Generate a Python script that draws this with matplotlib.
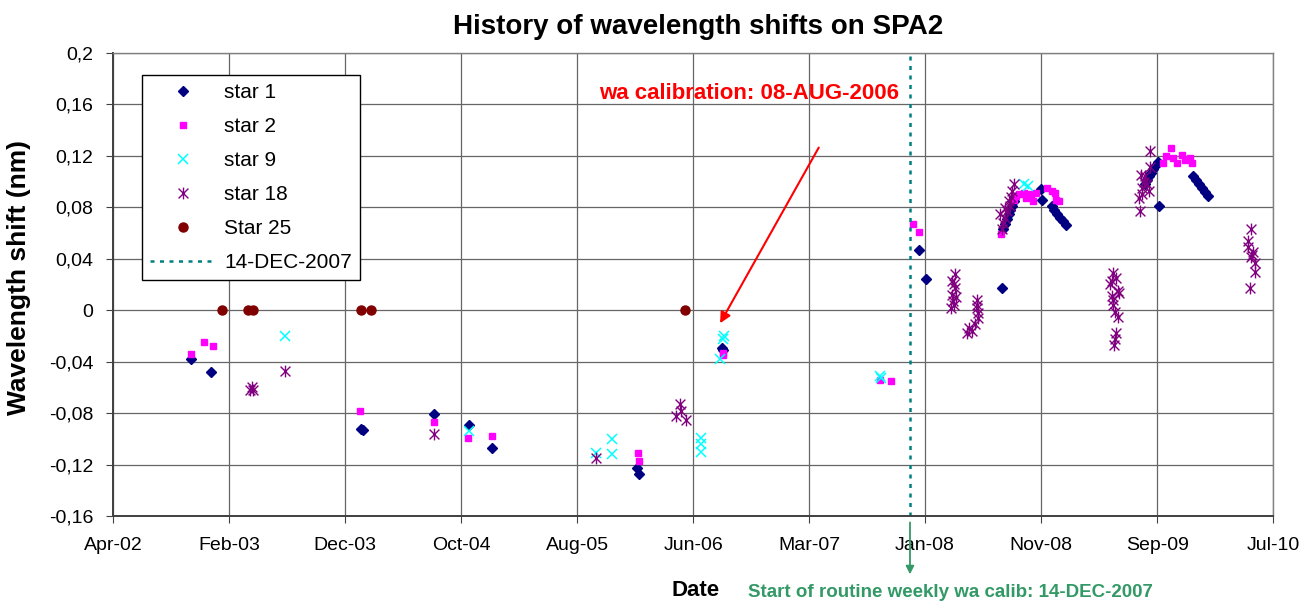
import matplotlib
matplotlib.use("Agg")
import matplotlib.pyplot as plt
from matplotlib.path import Path
import pandas as pd

plt.rcParams['font.family'] = ['Liberation Sans', 'DejaVu Sans']

# --- data ---
star1_dates = ['2002-11-18', '2003-01-07', '2004-01-30', '2004-02-02', '2004-08-05', '2004-11-02',
               '2005-01-02', '2006-01-10', '2006-01-15', '2006-08-17', '2006-08-19', '2008-01-07',
               '2008-01-25', '2008-08-07', '2008-08-09', '2008-08-14', '2008-08-19', '2008-08-24',
               '2008-08-29', '2008-09-03', '2008-09-08', '2008-11-16', '2008-11-19', '2008-12-13',
               '2008-12-20', '2008-12-28', '2009-01-04', '2009-01-12', '2009-01-20', '2009-08-11',
               '2009-08-16', '2009-08-21', '2009-08-26', '2009-08-31', '2009-09-05', '2009-09-13',
               '2009-09-16', '2009-12-13', '2009-12-21', '2009-12-28', '2010-01-05', '2010-01-13',
               '2010-01-20']
star1_vals = [-0.038, -0.048, -0.092, -0.093, -0.081, -0.089, -0.107, -0.123, -0.127, -0.029, -0.031,
              0.047, 0.024, 0.017, 0.063, 0.067, 0.071, 0.075, 0.078, 0.081, 0.085, 0.094, 0.086,
              0.081, 0.078, 0.075, 0.072, 0.069, 0.066, 0.098, 0.101, 0.104, 0.107, 0.110, 0.112,
              0.115, 0.081, 0.104, 0.101, 0.098, 0.095, 0.092, 0.089]

star2_dates = ['2002-11-16', '2002-12-21', '2003-01-13', '2004-01-27', '2004-08-03', '2004-10-30',
               '2005-01-01', '2006-01-11', '2006-01-15', '2006-08-18', '2006-08-20', '2007-09-29',
               '2007-10-26', '2007-12-23', '2008-01-05', '2008-08-04', '2008-09-06', '2008-09-12',
               '2008-09-19', '2008-10-02', '2008-10-09', '2008-10-20', '2008-10-27', '2008-11-04',
               '2008-11-30', '2008-12-13', '2008-12-23', '2008-12-25', '2008-12-31', '2009-09-27',
               '2009-10-05', '2009-10-18', '2009-10-23', '2009-10-31', '2009-11-13', '2009-11-22',
               '2009-12-04', '2009-12-09']
star2_vals = [-0.034, -0.025, -0.0275, -0.078, -0.087, -0.099, -0.098, -0.111, -0.117, -0.035, -0.033,
              -0.054, -0.055, 0.067, 0.061, 0.059, 0.086, 0.089, 0.090, 0.091, 0.087, 0.090, 0.085,
              0.091, 0.095, 0.0926, 0.091, 0.086, 0.085, 0.1146, 0.120, 0.126, 0.1185, 0.1146, 0.121,
              0.117, 0.1185, 0.1146]

star9_dates = ['2003-07-18', '2004-11-02', '2005-09-25', '2005-11-06', '2005-11-06', '2006-06-23',
               '2006-06-23', '2006-06-23', '2006-08-12', '2006-08-18', '2006-08-21', '2007-09-28',
               '2007-09-30', '2008-10-02', '2008-10-14']
star9_vals = [-0.020, -0.094, -0.111, -0.100, -0.112, -0.099, -0.104, -0.110, -0.038, -0.022, -0.020,
              -0.051, -0.053, 0.098, 0.0965]

star18_dates = ['2003-04-17', '2003-04-22', '2003-04-26', '2003-07-18', '2004-08-05', '2005-09-25',
                '2006-04-19', '2006-04-30', '2006-05-02', '2006-05-15',
                '2008-04-09', '2008-04-01', '2008-04-05', '2008-04-09', '2008-04-01', '2008-04-05',
                '2008-03-28', '2008-04-10', '2008-04-03',
                '2008-06-04', '2008-06-05', '2008-06-06', '2008-05-30', '2008-05-13', '2008-05-09',
                '2008-06-07', '2008-05-21', '2008-06-03',
                '2008-08-07', '2008-08-03', '2008-08-16', '2008-08-24', '2008-09-02', '2008-09-06',
                '2008-08-09', '2008-08-19', '2008-08-27', '2008-08-14', '2008-08-30',
                '2009-05-21', '2009-05-17', '2009-06-03', '2009-05-17', '2009-05-21', '2009-05-25',
                '2009-06-03', '2009-05-29', '2009-05-25', '2009-05-24', '2009-05-13', '2009-06-05',
                '2009-05-28', '2009-05-19',
                '2009-08-24', '2009-07-29', '2009-07-25', '2009-08-07', '2009-08-11', '2009-08-20',
                '2009-08-24', '2009-08-02', '2009-08-15', '2009-07-31', '2009-08-04',
                '2010-05-10', '2010-05-02', '2010-05-04', '2010-05-17', '2010-05-12', '2010-05-21',
                '2010-05-21', '2010-05-08', '2010-05-14']
star18_vals = [-0.062, -0.060, -0.062, -0.047, -0.096, -0.115,
               -0.0825, -0.073, -0.0786, -0.085,
               0.028, 0.023, 0.020, 0.017, 0.012, 0.004, 0.002, 0.010, 0.007,
               0.008, 0.002, -0.006, -0.011, -0.014, -0.018, -0.002, -0.016, 0.004,
               0.063, 0.0745, 0.0796, 0.085, 0.093, 0.098, 0.068, 0.077, 0.081, 0.072, 0.088,
               0.029, 0.023, 0.015, 0.011, 0.004, -0.001, -0.005, -0.018, -0.022, -0.027, 0.020,
               0.013, 0.025, 0.008,
               0.124, 0.077, 0.087, 0.100, 0.104, 0.093, 0.111, 0.095, 0.098, 0.105, 0.090,
               0.063, 0.054, 0.049, 0.045, 0.041, 0.037, 0.030, 0.017, 0.043]

star25_dates = ['2003-02-04', '2003-04-12', '2003-04-25', '2004-01-30', '2004-02-23', '2006-05-12']
star25_vals = [0, 0, 0, 0, 0, 0]

calib_date = '2006-08-08'
routine_date = '2007-12-14'

x_tick_labels = ['Apr-02', 'Feb-03', 'Dec-03', 'Oct-04', 'Aug-05', 'Jun-06',
                 'Mar-07', 'Jan-08', 'Nov-08', 'Sep-09', 'Jul-10']
y_ticks = [-0.16, -0.12, -0.08, -0.04, 0, 0.04, 0.08, 0.12, 0.16, 0.2]
y_tick_labels = ['-0,16', '-0,12', '-0,08', '-0,04', '0', '0,04', '0,08', '0,12', '0,16', '0,2']

# excel style axis: start date + 299 day major unit
x_start = pd.Timestamp('2002-04-30')
x_ticks = [x_start + pd.Timedelta(days=299 * i) for i in range(len(x_tick_labels))]

# asterisk marker (x with a vertical bar)
asterisk = Path([(-1, -1), (1, 1), (-1, 1), (1, -1), (0, -1.2), (0, 1.2)],
                [Path.MOVETO, Path.LINETO] * 3)

fig = plt.figure(figsize=(13.05, 6.03), dpi=100)
ax = fig.add_axes([0.0866, 0.1443, 0.889, 0.7678])

ax.plot(pd.to_datetime(star1_dates), star1_vals, linestyle='none', marker='D', markersize=5.5,
        color='#000080', label='star 1')
ax.plot(pd.to_datetime(star2_dates), star2_vals, linestyle='none', marker='s', markersize=4.5,
        color='#FF00FF', label='star 2')
ax.plot(pd.to_datetime(star9_dates), star9_vals, linestyle='none', marker='x', markersize=7,
        markeredgewidth=1.1, color='#00FFFF', label='star 9')
ax.plot(pd.to_datetime(star18_dates), star18_vals, linestyle='none', marker=asterisk, markersize=8.5,
        markeredgewidth=1.0, markerfacecolor='none', color='#800080', label='star 18')
ax.plot(pd.to_datetime(star25_dates), star25_vals, linestyle='none', marker='o', markersize=6.5,
        color='#800000', label='Star 25')
ax.axvline(pd.Timestamp(routine_date), color='#008080', linewidth=1.8, dashes=(1.6, 2.2),
           label='14-DEC-2007')

ax.set_xlim(x_start, x_start + pd.Timedelta(days=2990))
ax.set_ylim(-0.16, 0.2)
ax.set_xticks(x_ticks)
ax.set_xticklabels(x_tick_labels)
ax.set_yticks(y_ticks)
ax.set_yticklabels(y_tick_labels)
ax.tick_params(axis='both', labelsize=14, direction='out', length=5, color='#404040')
ax.tick_params(axis='x', pad=10)
ax.tick_params(axis='y', pad=9)

ax.grid(True, color='#666666', linewidth=0.9)
ax.set_axisbelow(True)
for side in ['left', 'bottom']:
    ax.spines[side].set_color('#404040')
    ax.spines[side].set_linewidth(1.4)
for side in ['top', 'right']:
    ax.spines[side].set_color('#808080')
    ax.spines[side].set_linewidth(1.0)

ax.set_ylabel('Wavelength shift (nm)', fontsize=19, fontweight='bold')
ax.yaxis.set_label_coords(-0.0707, 0.515)

fig.text(0.535, 0.955, 'History of wavelength shifts on SPA2', ha='center', va='center',
         fontsize=20, fontweight='bold')
fig.text(0.533, 0.021, 'Date', ha='center', va='center', fontsize=16, fontweight='bold')
fig.text(0.728, 0.018, 'Start of routine weekly wa calib: 14-DEC-2007', ha='center', va='center',
         fontsize=13.5, fontweight='bold', color='#339966')

ax.text(0.548, 0.913, 'wa calibration: 08-AUG-2006', transform=ax.transAxes, ha='center',
        va='center', fontsize=16, fontweight='bold', color='red')
ax.annotate('', xy=(pd.Timestamp(calib_date), -0.012), xycoords='data',
            xytext=(0.6095, 0.801), textcoords='axes fraction',
            arrowprops=dict(arrowstyle='-|>', color='red', lw=1.5, mutation_scale=16))
ax.annotate('', xy=(pd.Timestamp(routine_date), -0.132), xycoords=('data', 'axes fraction'),
            xytext=(pd.Timestamp(routine_date), -0.008), textcoords=('data', 'axes fraction'),
            annotation_clip=False,
            arrowprops=dict(arrowstyle='-|>', color='#339966', lw=1.3, mutation_scale=12))

leg = ax.legend(loc='upper left', bbox_to_anchor=(0.025, 0.953), fontsize=15, numpoints=1,
                labelspacing=0.72, handlelength=3.1, handletextpad=0.45, borderpad=0.4,
                borderaxespad=0, fancybox=False, edgecolor='black', framealpha=1)
leg.get_frame().set_linewidth(1.0)

fig.savefig('out.png', dpi=100)
